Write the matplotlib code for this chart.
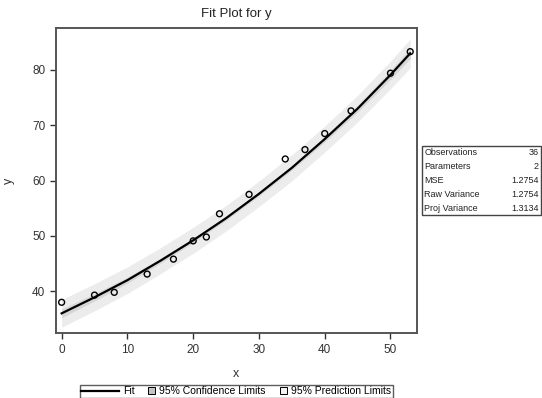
import numpy as np
import matplotlib
matplotlib.use("Agg")
import matplotlib.pyplot as plt
from matplotlib.lines import Line2D
from matplotlib.patches import Patch, Rectangle
from matplotlib.legend_handler import HandlerPatch

plt.rcParams['font.family'] = ['Liberation Sans', 'DejaVu Sans']

# observed points
obs_x = [0, 5, 8, 13, 17, 20, 22, 24, 28.5, 34, 37, 40, 44, 50, 53]
obs_y = [38.0, 39.3, 39.8, 43.1, 45.8, 49.1, 49.8, 54.0, 57.5, 63.9, 65.6, 68.5, 72.6, 79.4, 83.3]

# fit line
fit_x = [0, 5, 10, 15, 20, 25, 30, 35, 40, 45, 50, 53]
fit_y = [36.0, 38.9, 42.0, 45.5, 49.2, 53.2, 57.6, 62.3, 67.5, 73.0, 79.1, 83.0]
# half widths of the bands
conf_hw = [0.8, 0.65, 0.55, 0.45, 0.4, 0.35, 0.35, 0.4, 0.5, 0.6, 0.8, 0.95]
pred_hw = [2.5, 2.45, 2.4, 2.35, 2.35, 2.3, 2.3, 2.35, 2.35, 2.4, 2.5, 2.6]

stat_names = ["Observations", "Parameters", "MSE", "Raw Variance", "Proj Variance"]
stat_vals = ["36", "2", "1.2754", "1.2754", "1.3134"]

fx = np.array(fit_x)
fy = np.array(fit_y)
chw = np.array(conf_hw)
phw = np.array(pred_hw)

fig = plt.figure(figsize=(5.42, 3.98), dpi=100)
ax = fig.add_axes([0.1028, 0.1626, 0.6662, 0.7674])

ax.fill_between(fx, fy - phw, fy + phw, color='#ececec', lw=0)
ax.fill_between(fx, fy - chw, fy + chw, color='#d6d6d6', lw=0)
ax.plot(fx, fy, color='black', lw=1.6)
ax.scatter(obs_x, obs_y, s=18, facecolors='none', edgecolors='black', linewidths=1.0, zorder=3)

ax.set_xlim(-0.9, 54)
ax.set_ylim(32.4, 87.6)
ax.set_xticks([0, 10, 20, 30, 40, 50])
ax.set_yticks([40, 50, 60, 70, 80])
ax.tick_params(direction='out', length=4, width=1, labelsize=8.5, colors='#333333')
for s in ax.spines.values():
    s.set_color('#555555')
    s.set_linewidth(1.4)

ax.set_title("Fit Plot for y", fontsize=9.5, pad=8, color='#222222')
ax.set_xlabel("x", fontsize=9, labelpad=9, color='#333333')
ax.set_ylabel("y", fontsize=9, labelpad=12, color='#333333')


# small square swatch at the right end of the handle box
def square(legend, orig_handle, xdescent, ydescent, width, height, fontsize):
    side = height * 0.95
    return Rectangle((width - side - xdescent, -ydescent + (height - side) / 2), side, side)


handles = [Line2D([], [], color='black', lw=1.6),
           Patch(facecolor='#c4c4c4', edgecolor='black', lw=0.7),
           Patch(facecolor='#f2f2f2', edgecolor='black', lw=0.7)]
labels = ["Fit", "95% Confidence Limits", "95% Prediction Limits"]
leg = fig.legend(handles, labels, loc='center', bbox_to_anchor=(0.4356, 0.0165),
                 ncol=3, fontsize=7.5, frameon=True, fancybox=False,
                 handlelength=3.6, handletextpad=0.4, columnspacing=-1.6,
                 borderpad=0.15, borderaxespad=0,
                 handler_map={Patch: HandlerPatch(patch_func=square)})
leg.get_frame().set_edgecolor('#333333')
leg.get_frame().set_linewidth(1.0)

# statistics table
W, H = 542.0, 398.0
left, right, top, bottom = 421.7, 540.5, 145.7, 215.0
fig.patches.append(Rectangle((left / W, 1 - bottom / H), (right - left) / W, (bottom - top) / H,
                             transform=fig.transFigure, fill=False, ec='#444444', lw=1.0))
row_h = (bottom - top) / len(stat_names)
for i, (n, v) in enumerate(zip(stat_names, stat_vals)):
    yc = 1 - (top + row_h * (i + 0.5)) / H
    fig.text((left + 2.5) / W, yc, n, fontsize=6.5, va='center', ha='left', color='#222222')
    fig.text((right - 2.0) / W, yc, v, fontsize=6.5, va='center', ha='right', color='#222222')

fig.savefig("out.png", dpi=100)
